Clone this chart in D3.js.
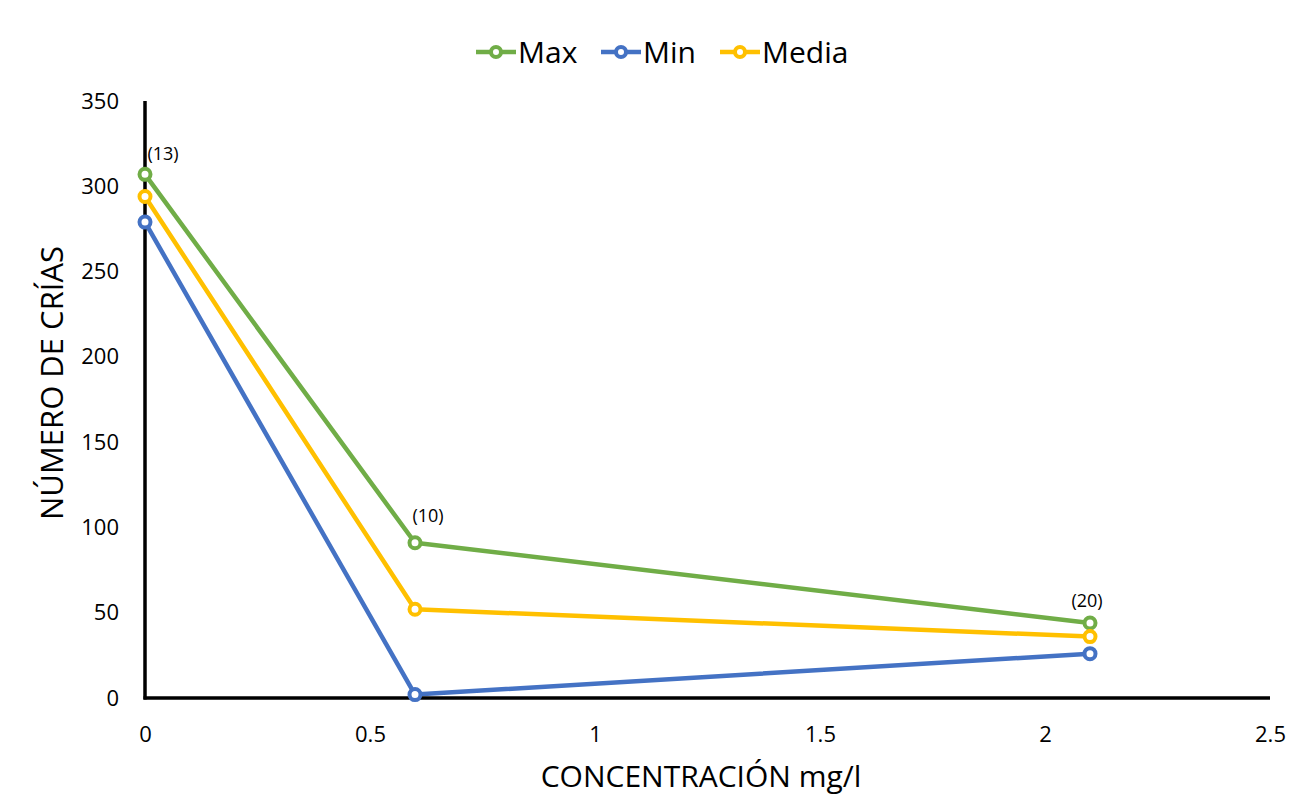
<!DOCTYPE html>
<html>
<head>
<meta charset="utf-8">
<script src="https://cdn.jsdelivr.net/npm/d3@7"></script>
<style>
  body { margin: 0; background: #fff; }
  svg { display: block; font-family: "Open Sans", "Noto Sans", sans-serif; }
</style>
</head>
<body>
<div id="chart"></div>
<script>
// Concentration levels (mg/l)
const concentrations = [0, 0.6, 2.1];
// Offspring counts per series
const maxValues = [307, 91, 44];
const minValues = [279, 2, 26];
const mediaValues = [294, 52, 36];
// Sample sizes shown above the Max points
const sampleLabels = ["(13)", "(10)", "(20)"];
const seriesNames = ["Max", "Min", "Media"];
const seriesColors = ["#70AD47", "#4472C4", "#FFC000"];
const xTicks = [0, 0.5, 1, 1.5, 2, 2.5];
const yTicks = [0, 50, 100, 150, 200, 250, 300, 350];

const series = [maxValues, minValues, mediaValues].map((vals, i) => ({
  name: seriesNames[i],
  color: seriesColors[i],
  points: vals.map((v, j) => ({ x: concentrations[j], y: v }))
}));

const W = 1301, H = 804;
const margin = { left: 145, right: 31, top: 101, bottom: 106 };

const svg = d3.select("#chart").append("svg")
  .attr("width", W).attr("height", H);

const x = d3.scaleLinear().domain([0, 2.5]).range([margin.left, W - margin.right]);
const y = d3.scaleLinear().domain([0, 350]).range([H - margin.bottom, margin.top]);

// Tick labels
const xAxis = d3.axisBottom(x).tickValues(xTicks).tickSize(0).tickPadding(28)
  .tickFormat(d => String(d));
const yAxis = d3.axisLeft(y).tickValues(yTicks).tickSize(0).tickPadding(26)
  .tickFormat(d => String(d));

const gx = svg.append("g").attr("transform", `translate(0,${y(0)})`).call(xAxis);
const gy = svg.append("g").attr("transform", `translate(${x(0)},0)`).call(yAxis);
[gx, gy].forEach(g => {
  g.select(".domain").remove();
  g.selectAll("text").attr("fill", "#000").style("font-size", "22px")
    .style("font-family", "'Open Sans', 'Noto Sans', sans-serif");
});

// Lines
const line = d3.line().x(d => x(d.x)).y(d => y(d.y));
series.forEach(s => {
  svg.append("path").datum(s.points)
    .attr("d", line)
    .attr("fill", "none")
    .attr("stroke", s.color)
    .attr("stroke-width", 4.5)
    .attr("stroke-linejoin", "round");
});

// Axis lines drawn over the series lines
svg.append("line")
  .attr("x1", x(0)).attr("x2", x(0))
  .attr("y1", y(350)).attr("y2", y(0) + 1.5)
  .attr("stroke", "#000").attr("stroke-width", 3.5);
svg.append("line")
  .attr("x1", x(0) - 1.5).attr("x2", x(2.5))
  .attr("y1", y(0)).attr("y2", y(0))
  .attr("stroke", "#000").attr("stroke-width", 3.5);

// Markers
series.forEach(s => {
  svg.append("g").selectAll("circle").data(s.points).join("circle")
    .attr("cx", d => x(d.x)).attr("cy", d => y(d.y))
    .attr("r", 5.5)
    .attr("fill", "#fff")
    .attr("stroke", s.color)
    .attr("stroke-width", 4);
});

// Sample size labels above the Max series
const labelDx = [18, 13, -3];
const labelDy = [-14, -21, -16];
svg.append("g").selectAll("text").data(series[0].points).join("text")
  .attr("x", (d, i) => x(d.x) + labelDx[i])
  .attr("y", (d, i) => y(d.y) + labelDy[i])
  .attr("text-anchor", "middle")
  .style("font-size", "18px")
  .attr("fill", "#000")
  .text((d, i) => sampleLabels[i]);

// Axis titles
svg.append("text")
  .attr("x", 701)
  .attr("y", 787)
  .attr("text-anchor", "middle")
  .style("font-size", "30px")
  .attr("fill", "#000")
  .text("CONCENTRACIÓN mg/l");

svg.append("text")
  .attr("transform", `translate(63,383) rotate(-90)`)
  .attr("text-anchor", "middle")
  .style("font-size", "31px")
  .attr("fill", "#000")
  .text("NÚMERO DE CRÍAS");

// Legend
const legendItems = [
  { x: 476, label: "Max" },
  { x: 601, label: "Min" },
  { x: 720, label: "Media" }
];
const lg = svg.append("g");
legendItems.forEach((it, i) => {
  const g = lg.append("g").attr("transform", `translate(${it.x},52)`);
  g.append("line").attr("x1", 0).attr("x2", 40).attr("y1", 0).attr("y2", 0)
    .attr("stroke", seriesColors[i]).attr("stroke-width", 4.5);
  g.append("circle").attr("cx", 20).attr("cy", 0).attr("r", 5)
    .attr("fill", "#fff").attr("stroke", seriesColors[i]).attr("stroke-width", 4);
  g.append("text").attr("x", 42).attr("y", 11)
    .style("font-size", "30px").attr("fill", "#000").text(it.label);
});
</script>
</body>
</html>
